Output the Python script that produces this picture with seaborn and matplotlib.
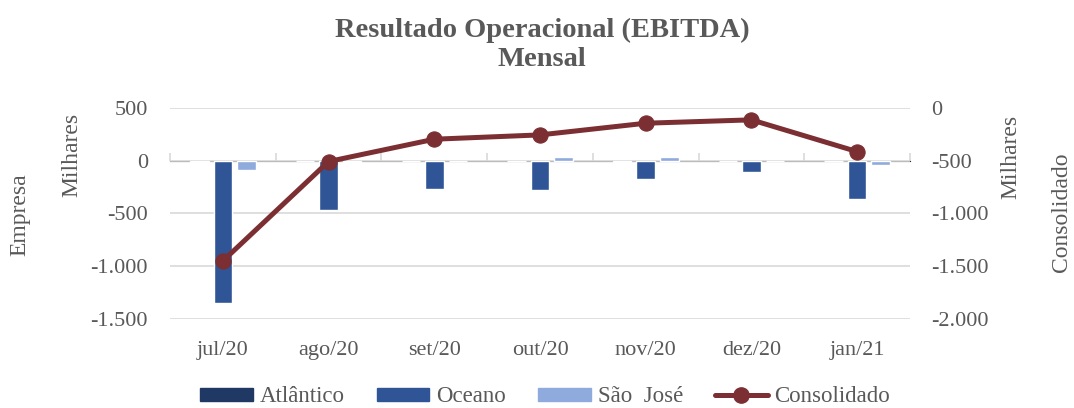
import numpy as np
import pandas as pd
import matplotlib
matplotlib.use('Agg')
import matplotlib.pyplot as plt
import seaborn as sns
from matplotlib.ticker import FuncFormatter
from matplotlib.patches import Patch
from matplotlib.lines import Line2D

sns.set_style('white')
plt.rcParams['font.family'] = ['Liberation Serif', 'DejaVu Serif']

# dados (milhares)
meses = ['jul/20', 'ago/20', 'set/20', 'out/20', 'nov/20', 'dez/20', 'jan/21']
atlantico = [-6, -5, -5, -3, -7, -2, -2]
oceano = [-1347, -466, -269, -276, -174, -105, -364]
sao_jose = [-86, -12, 0, 41, 40, 0, -41]
consolidado = [-1451, -506, -294, -253, -142, -110, -412]

series = ['Atlântico', 'Oceano', 'São  José']
cores = ['#1F3864', '#2F5597', '#8FAADC']
cor_linha = '#7B2F32'
cinza = '#595959'
grade = '#D9D9D9'

df = pd.DataFrame({'mes': meses * 3,
                   'empresa': np.repeat(series, len(meses)),
                   'valor': atlantico + oceano + sao_jose})
df_cons = pd.DataFrame({'mes': meses, 'valor': consolidado})

fmt = FuncFormatter(lambda v, p: f'{v:,.0f}'.replace(',', '.'))

fig = plt.figure(figsize=(10.74, 4.08), dpi=100)
ax = fig.add_axes([0.1583, 0.2189, 0.689, 0.5157])

sns.barplot(data=df, x='mes', y='valor', hue='empresa', palette=cores,
            width=0.667, gap=0.21, ax=ax, legend=False, saturation=1, zorder=2)
ax.set_ylim(-1500, 500)
ax.set_yticks([-1500, -1000, -500, 0, 500])
ax.yaxis.set_major_formatter(fmt)
ax.grid(axis='y', color=grade, lw=1.2)
ax.set_axisbelow(True)
ax.set_xlim(-0.5, 6.5)
for s in ax.spines.values():
    s.set_visible(False)
ax.tick_params(axis='y', length=0, pad=16, labelsize=16, labelcolor=cinza)
ax.tick_params(axis='x', length=0, pad=16, labelsize=16, labelcolor=cinza)
ax.set_xlabel('')
ax.set_ylabel('')

# marcas entre categorias no zero
sec = ax.secondary_xaxis(0.75)
sec.set_xticks(np.arange(-0.5, 7, 1))
sec.set_xticklabels([])
sec.tick_params(length=6, color=grade, width=1.2)
sec.spines['bottom'].set_visible(False)

ax2 = ax.twinx()
sns.lineplot(data=df_cons, x='mes', y='valor', ax=ax2, color=cor_linha,
             lw=3.6, marker='o', markersize=11, markeredgecolor=cor_linha)
ax2.set_ylim(-2000, 0)
ax2.set_yticks([-2000, -1500, -1000, -500, 0])
ax2.yaxis.set_major_formatter(fmt)
for s in ax2.spines.values():
    s.set_visible(False)
ax2.tick_params(axis='y', length=0, pad=15, labelsize=16, labelcolor=cinza)
ax2.set_xlabel('')
ax2.set_ylabel('')

W, H = 1074, 408
fig.text(542 / W, 1 - 30 / H, 'Resultado Operacional (EBITDA)', ha='center', va='center',
         fontsize=20.5, fontweight='bold', color=cinza)
fig.text(542 / W, 1 - 59 / H, 'Mensal', ha='center', va='center',
         fontsize=20.5, fontweight='bold', color=cinza)
fig.text(20 / W, 1 - 215 / H, 'Empresa', rotation=90, ha='center', va='center',
         fontsize=17, color=cinza)
fig.text(72 / W, 1 - 155 / H, 'Milhares', rotation=90, ha='center', va='center',
         fontsize=17, color=cinza)
fig.text(1011 / W, 1 - 157 / H, 'Milhares', rotation=90, ha='center', va='center',
         fontsize=17, color=cinza)
fig.text(1062 / W, 1 - 212 / H, 'Consolidado', rotation=90, ha='center', va='center',
         fontsize=17, color=cinza)

handles = [Patch(color=c) for c in cores]
handles.append(Line2D([], [], color=cor_linha, lw=3.6, marker='o', markersize=11))
fig.legend(handles, series + ['Consolidado'], loc='center', bbox_to_anchor=(545 / W, 0.027),
           ncol=4, frameon=False, fontsize=16.5, labelcolor=cinza, handlelength=2.3,
           handleheight=0.5, handletextpad=0.3, columnspacing=1.4)

fig.savefig('out.png', dpi=100)
